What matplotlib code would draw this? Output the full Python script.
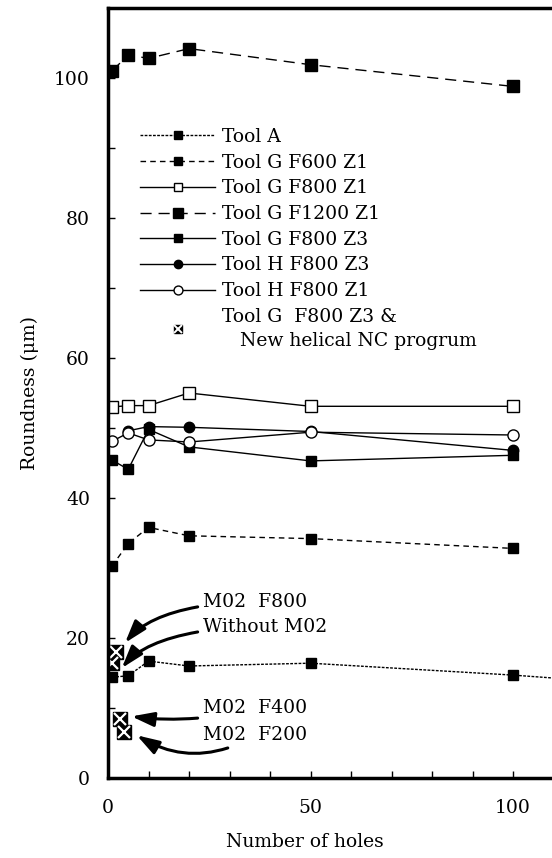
import matplotlib
matplotlib.use("Agg")
import matplotlib.pyplot as plt
from matplotlib.ticker import MultipleLocator, FixedLocator

plt.rcParams['font.family'] = ['DejaVu Serif']
plt.rcParams['font.size'] = 13.5

# ---- data ----
holes = [1, 5, 10, 20, 50, 100]

tool_a_x = [1, 5, 10, 20, 50, 100, 150]
tool_a = [14.4, 14.6, 16.7, 16.0, 16.4, 14.7, 12.6]
g_f600_z1 = [30.3, 33.5, 35.8, 34.6, 34.2, 32.8]
g_f800_z1 = [53.0, 53.2, 53.2, 55.0, 53.1, 53.1]
g_f1200_z1 = [101.0, 103.3, 102.8, 104.2, 101.9, 98.8]
g_f800_z3 = [45.4, 44.1, 49.8, 47.3, 45.3, 46.1]
h_f800_z3_x = [5, 10, 20, 50, 100]
h_f800_z3 = [49.6, 50.2, 50.1, 49.5, 46.8]
h_f800_z1 = [48.1, 49.3, 48.3, 48.0, 49.4, 49.0]

# Tool G F800 Z3 + new helical NC program (single points)
nc_x = [2, 1, 3, 4]
nc_y = [18.0, 16.5, 8.5, 6.6]
nc_labels = ['M02  F800', 'Without M02', 'M02  F400', 'M02  F200']
nc_text_y = [25.1, 21.6, 10.0, 6.1]
nc_tip = [(4.2, 19.3), (3.4, 15.7), (5.8, 8.8), (7.1, 6.1)]
nc_conn = ['angle3,angleA=0,angleB=50', 'angle3,angleA=0,angleB=50',
           'arc3,rad=-0.1', 'arc3,rad=-0.3']

x_ticks = [0, 50, 100]

fig = plt.figure(figsize=(5.52, 8.58), dpi=100)
ax = fig.add_axes([108 / 552, 80 / 858, 607.5 / 552, 770 / 858])

l1, = ax.plot(tool_a_x, tool_a, color='black', lw=1, dashes=(2, 1),
              marker='s', ms=7, label='Tool A')
l2, = ax.plot(holes, g_f600_z1, color='black', lw=1, dashes=(4, 3),
              marker='s', ms=7.5, label='Tool G F600 Z1')
l3, = ax.plot(holes, g_f800_z1, color='black', lw=1,
              marker='s', ms=8, mfc='white', label='Tool G F800 Z1')
l4, = ax.plot(holes, g_f1200_z1, color='black', lw=1, dashes=(8, 5),
              marker='s', ms=8.5, label='Tool G F1200 Z1')
l5, = ax.plot(holes, g_f800_z3, color='black', lw=1,
              marker='s', ms=7.5, label='Tool G F800 Z3')
l6, = ax.plot(h_f800_z3_x, h_f800_z3, color='black', lw=1,
              marker='o', ms=7.5, label='Tool H F800 Z3')
l7, = ax.plot(holes, h_f800_z1, color='black', lw=1,
              marker='o', ms=8, mfc='white', label='Tool H F800 Z1')

ax.plot(nc_x, nc_y, ls='none', marker='s', ms=10, color='black')
ax.plot(nc_x, nc_y, ls='none', marker='x', ms=9, mew=1.6, color='white')
h_sq, = ax.plot([], [], ls='none', marker='s', ms=8, color='black')
h_x, = ax.plot([], [], ls='none', marker='x', ms=7, mew=1.4, color='white')

for lab, ty, tip, conn in zip(nc_labels, nc_text_y, nc_tip, nc_conn):
    ax.annotate(lab, xy=tip, xytext=(23.5, ty), va='center', ha='left',
                arrowprops=dict(arrowstyle='-|>,head_length=1.0,head_width=0.32',
                                color='black', lw=2.2, connectionstyle=conn,
                                shrinkA=2, shrinkB=0))

handles = [l1, l2, l3, l4, l5, l6, l7, (h_sq, h_x)]
labels = ['Tool A', 'Tool G F600 Z1', 'Tool G F800 Z1', 'Tool G F1200 Z1',
          'Tool G F800 Z3', 'Tool H F800 Z3', 'Tool H F800 Z1',
          'Tool G  F800 Z3 &\n   New helical NC progrum']
leg = ax.legend(handles, labels, loc='upper left', frameon=False,
                bbox_to_anchor=(32 / 607.5, 1 - 120 / 770), borderpad=0,
                borderaxespad=0, handlelength=4.0, handletextpad=0.4,
                labelspacing=0.41, markerscale=0.8)
leg.get_texts()[-1].set_linespacing(1.45)

ax.set_xlim(0, 150)
ax.set_ylim(0, 110)
ax.xaxis.set_major_locator(FixedLocator(x_ticks))
ax.xaxis.set_minor_locator(MultipleLocator(10))
ax.yaxis.set_major_locator(MultipleLocator(20))
ax.yaxis.set_minor_locator(MultipleLocator(10))
ax.tick_params(which='both', direction='in', length=5, width=1,
               top=False, right=False)
ax.tick_params(axis='x', pad=15)
ax.tick_params(axis='y', pad=13)
for s in ax.spines.values():
    s.set_linewidth(2.5)

ax.set_xlabel('Number of holes')
ax.set_ylabel('Roundness (μm)')
ax.xaxis.set_label_coords(197 / 607.5, -55 / 770)
ax.yaxis.set_label_coords(-69 / 607.5, 0.5)

fig.savefig('out.png', dpi=100)
